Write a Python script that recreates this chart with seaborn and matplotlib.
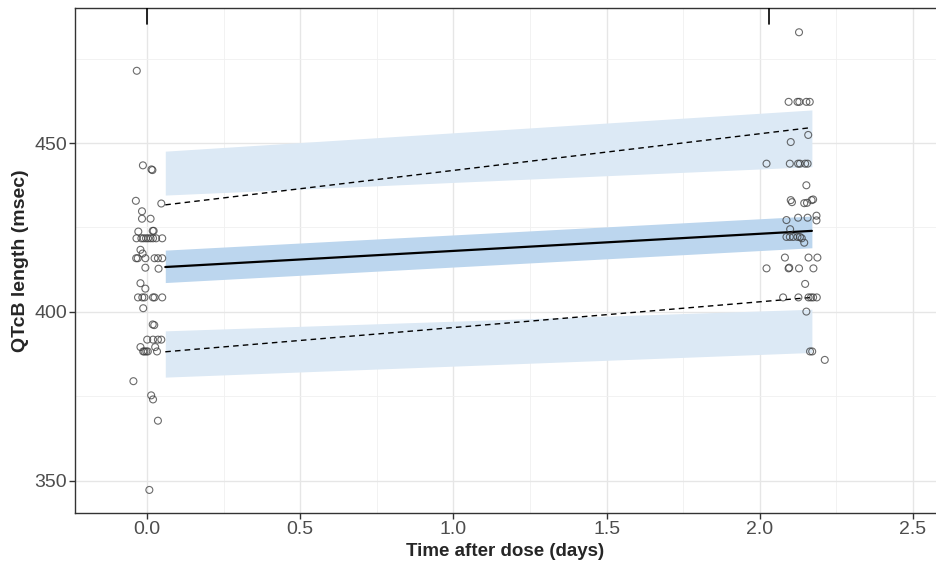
import numpy as np
import pandas as pd
import matplotlib
matplotlib.use("Agg")
import matplotlib.pyplot as plt
from matplotlib.ticker import MultipleLocator, FixedLocator
import seaborn as sns

time_obs = [
    -0.033, -0.013, 0.015, 0.018, -0.036, 0.047, -0.016, -0.016, 0.012, -0.028,
    0.019, 0.022,
    -0.034, -0.018, -0.011, -0.003, 0.004, 0.012, 0.020, 0.030, 0.050,
    -0.021, -0.014,
    -0.035, -0.030, -0.005, 0.025, 0.036, 0.050,
    -0.005, 0.038, -0.021, -0.005,
    -0.029, -0.015, -0.008, 0.020, 0.025, 0.050,
    -0.012, 0.019, 0.024,
    0.001, 0.020, 0.036, 0.047,
    -0.021, 0.027,
    -0.012, -0.008, -0.002, 0.003, 0.033,
    -0.044, 0.014, 0.020, 0.036, 0.008,
    # day ~2 cluster
    2.128,
    2.094, 2.123, 2.129, 2.152, 2.163,
    2.158, 2.101,
    2.022, 2.098, 2.125, 2.131, 2.148, 2.156,
    2.152, 2.101, 2.105, 2.145, 2.154, 2.169, 2.174,
    2.087, 2.125, 2.156, 2.185, 2.185,
    2.099,
    2.087, 2.098, 2.109, 2.123, 2.131, 2.137, 2.145,
    2.082, 2.159, 2.188,
    2.022, 2.094, 2.096, 2.128, 2.175,
    2.148,
    2.076, 2.126, 2.159, 2.167, 2.174, 2.186,
    2.152, 2.164, 2.171, 2.212,
]
qtc_obs = [
    471.4, 443.4, 442.2, 442.0, 432.9, 432.1, 429.8, 427.6, 427.6, 423.8,
    424.0, 424.0,
    421.8, 421.8, 421.8, 421.8, 421.8, 421.8, 421.8, 421.8, 421.8,
    418.4, 417.3,
    415.9, 415.9, 415.9, 415.9, 415.9, 415.9,
    413.1, 412.8, 408.5, 406.9,
    404.3, 404.3, 404.3, 404.3, 404.3, 404.3,
    401.1, 396.3, 396.1,
    391.8, 391.8, 391.8, 391.8,
    389.6, 389.6,
    388.3, 388.3, 388.3, 388.3, 388.3,
    379.5, 375.3, 374.1, 367.8, 347.3,
    # day ~2 cluster
    482.8,
    462.2, 462.2, 462.2, 462.2, 462.2,
    452.4, 450.3,
    443.9, 443.9, 443.9, 443.9, 443.9, 443.9,
    437.5, 433.1, 432.5, 432.2, 432.3, 433.1, 433.3,
    427.2, 427.9, 427.9, 428.5, 427.1,
    424.5,
    422.2, 422.2, 422.2, 422.2, 422.2, 421.8, 420.5,
    416.1, 416.1, 416.1,
    412.9, 412.9, 413.1, 412.9, 412.9,
    408.3,
    404.3, 404.3, 404.3, 404.3, 404.3, 404.3,
    400.1, 388.3, 388.3, 385.8,
]

# ---- model prediction (lines) ----
pred_time = [0.06, 2.17]
pred_median = [413.3, 424.0]
pred_upper = [431.7, 454.6]
pred_lower = [388.2, 404.3]

# ---- prediction intervals (bands) ----
band_time = [0.06, 2.17]
upper_band_lo = [434.6, 443.0]
upper_band_hi = [447.6, 459.8]
median_band_lo = [408.7, 419.0]
median_band_hi = [418.3, 428.4]
lower_band_lo = [380.7, 388.0]
lower_band_hi = [394.4, 400.8]

# nominal times marked at top
nominal_times = [0.0, 2.03]

x_ticks = [0.0, 0.5, 1.0, 1.5, 2.0, 2.5]
x_tick_labels = ["0.0", "0.5", "1.0", "1.5", "2.0", "2.5"]
y_ticks = [350, 400, 450]
y_tick_labels = ["350", "400", "450"]

sns.set_theme(style="white")
plt.rcParams["font.family"] = ["Liberation Sans", "DejaVu Sans"]

fig = plt.figure(figsize=(9.36, 5.68), dpi=100)
ax = fig.add_axes([0.080, 0.097, 0.92, 0.889])

light_blue = "#dce9f5"
mid_blue = "#bcd6ee"

ax.fill_between(band_time, upper_band_lo, upper_band_hi, color=light_blue, lw=0, zorder=1)
ax.fill_between(band_time, lower_band_lo, lower_band_hi, color=light_blue, lw=0, zorder=1)
ax.fill_between(band_time, median_band_lo, median_band_hi, color=mid_blue, lw=0, zorder=1)

pred_df = pd.DataFrame({"time": pred_time * 3,
                        "value": pred_median + pred_upper + pred_lower,
                        "stat": ["median"] * 2 + ["upper"] * 2 + ["lower"] * 2})
sns.lineplot(data=pred_df[pred_df.stat == "median"], x="time", y="value", color="black",
             lw=1.6, ax=ax, zorder=3)
for s in ["upper", "lower"]:
    sns.lineplot(data=pred_df[pred_df.stat == s], x="time", y="value", color="black",
                 lw=1.0, ax=ax, zorder=3, linestyle=(0, (4, 3)))

obs_df = pd.DataFrame({"time": time_obs, "qtc": qtc_obs})
sns.scatterplot(data=obs_df, x="time", y="qtc", ax=ax, marker="o", s=25,
                facecolor="none", edgecolor="#3a3a3a", linewidth=0.8, alpha=0.75, zorder=4)

for t in nominal_times:
    ax.axvline(t, ymin=0.968, ymax=1.0, color="black", lw=1.2, zorder=5)

ax.set_xlim(-0.235, 2.575)
ax.set_ylim(340.5, 490)
ax.xaxis.set_major_locator(FixedLocator(x_ticks))
ax.set_xticklabels(x_tick_labels)
ax.yaxis.set_major_locator(FixedLocator(y_ticks))
ax.set_yticklabels(y_tick_labels)
ax.xaxis.set_minor_locator(MultipleLocator(0.25))
ax.yaxis.set_minor_locator(MultipleLocator(25))

ax.grid(True, which="major", color="#e6e6e6", lw=1.0, zorder=0)
ax.grid(True, which="minor", color="#f0f0f0", lw=0.6, zorder=0)
ax.set_axisbelow(True)

for side in ["left", "bottom", "top"]:
    ax.spines[side].set_color("#333333")
    ax.spines[side].set_linewidth(1.0)
ax.spines["right"].set_visible(False)

ax.tick_params(axis="both", which="major", length=4, width=1, color="#333333",
               labelcolor="#4d4d4d", labelsize=14, bottom=True, left=True, pad=1.5)
ax.tick_params(axis="both", which="minor", length=0)

ax.set_xlabel("Time after dose (days)", fontsize=13.5, fontweight="bold", labelpad=4)
ax.set_ylabel("QTcB length (msec)", fontsize=14, fontweight="bold", labelpad=4)

fig.savefig("out.png", dpi=100)
